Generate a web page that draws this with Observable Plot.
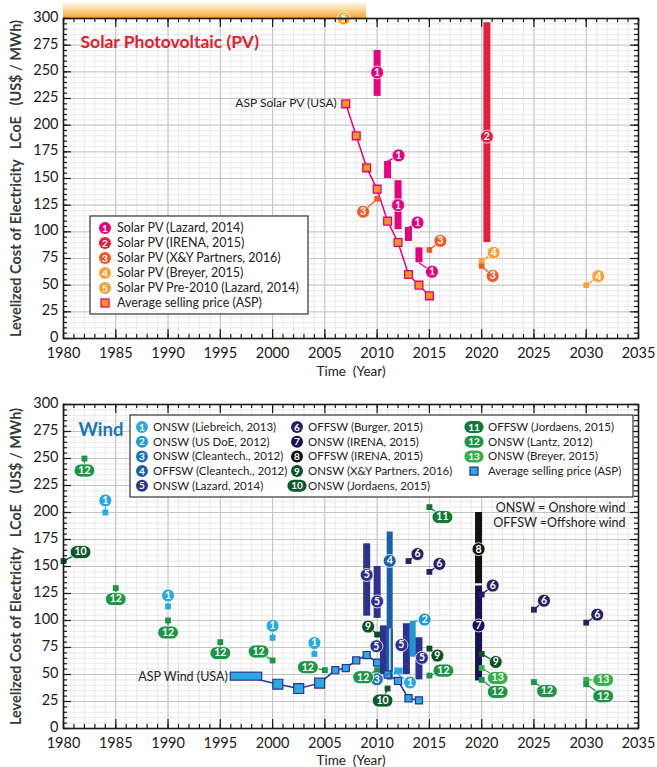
<!DOCTYPE html>
<html><head><meta charset="utf-8">
<script src="https://cdn.jsdelivr.net/npm/d3@7"></script>
<script src="https://cdn.jsdelivr.net/npm/@observablehq/plot@0.6"></script>
<style>
html,body{margin:0;padding:0;background:#fff;}
#root{width:657px;height:767px;overflow:hidden;}
#root svg{display:block;}
</style></head><body><div id="root"></div>
<script>
// ================= DATA: Solar PV =================
const pvSeriesNames = ["Solar PV (Lazard, 2014)", "Solar PV (IRENA, 2015)", "Solar PV (X&Y Partners, 2016)", "Solar PV (Breyer, 2015)", "Solar PV Pre-2010 (Lazard, 2014)"];
const pvRangeSeries = [1, 1, 1, 1, 1, 2];
const pvRangeYears  = [2010, 2011, 2012, 2013, 2014, 2020.5];
const pvRangeLow    = [227, 150, 102, 91, 71, 90];
const pvRangeHigh   = [270, 166, 148, 104, 85, 296];
const pvPointSeries = [3, 3, 3, 4, 4];
const pvPointYears  = [2010, 2015, 2020, 2020, 2030];
const pvPointValues = [131, 83, 68, 73, 50];
const pvAspYears    = [2007, 2008, 2009, 2010, 2011, 2012, 2013, 2014, 2015];
const pvAspValues   = [220, 190, 160, 140, 110, 90, 60, 50, 40];
const pvPre2010Years = [1980, 2009];
const pvPre2010Floor = 300;

// ================= DATA: Wind =================
const windSeriesNames = ["ONSW (Liebreich, 2013)", "ONSW (US DoE, 2012)", "ONSW (Cleantech., 2012)", "OFFSW (Cleantech., 2012)", "ONSW (Lazard, 2014)", "OFFSW (Burger, 2015)", "ONSW (IRENA, 2015)", "OFFSW (IRENA, 2015)", "ONSW (X&Y Partners, 2016)", "ONSW (Jordaens, 2015)", "OFFSW (Jordaens, 2015)", "ONSW (Lantz, 2012)", "ONSW (Breyer, 2015)"];
const windRangeSeries = [5, 5, 5, 4, 3, 1, 5, 2, 5, 8, 7];
const windRangeYears  = [2009, 2010, 2010.6, 2011.2, 2011.4, 2012, 2012.8, 2013.4, 2014, 2019.7, 2019.7];
const windRangeLow    = [104, 102, 50, 45, 52, 50, 50, 66, 45, 134, 44];
const windRangeHigh   = [171, 150, 95, 182, 92, 56, 97, 99, 84, 200, 132];
const windPointSeries = [12, 1, 10, 12, 1, 12, 12, 1, 12, 1, 12, 9, 12, 10, 6, 6, 11, 9, 12, 6, 9, 13, 12, 6, 12, 6, 13, 12];
const windPointYears  = [1982, 1984, 1980, 1985, 1990, 1990, 1995, 2000, 2000, 2004, 2005, 2010, 2010, 2011, 2013, 2015, 2015, 2015, 2015, 2020, 2020, 2020, 2020, 2025, 2025, 2030, 2030, 2030];
const windPointValues = [250, 200, 155, 130, 113, 100, 80, 84, 63, 69, 54, 87, 54, 37, 155, 145, 205, 74, 49, 124, 69, 56, 45, 110, 43, 98, 45, 41];
const windAspSpanStart = [1996];
const windAspSpanEnd   = [1999];
const windAspSpanValue = [48];
const windAspYears  = [2000.5, 2002.5, 2004.5, 2006, 2007, 2008, 2009, 2010, 2011, 2012, 2013, 2014];
const windAspValues = [41, 37, 42, 54, 56, 63, 68, 61, 50, 44, 28, 26];

// ================= TICKS =================
const yearTicks = [1980, 1985, 1990, 1995, 2000, 2005, 2010, 2015, 2020, 2025, 2030, 2035];
const costTicks = [0, 25, 50, 75, 100, 125, 150, 175, 200, 225, 250, 275, 300];

// ================= STYLE / LAYOUT =================
const pvColors = {1: "#e5007d", 2: "#e41e3c", 3: "#f15a24", 4: "#f8a23a", 5: "#f5a033"};
const windColors = {1: "#27aae1", 2: "#1b9ad6", 3: "#1c75bc", 4: "#1860a8", 5: "#2e3192", 6: "#252163", 7: "#151357", 8: "#111111", 9: "#0b4f24", 10: "#0c5a2b", 11: "#127a36", 12: "#1d9447", 13: "#37b04c"};
// label placement: [anchor on bar, dx px, dy px]
const pvRangeLabelAt = [["mid", 0, -1], ["top", 11, -6], ["mid", 0, 0], ["top", 9, -5], ["bottom", 13, 9], ["mid", 0, 4]];
const pvPointLabelAt = [[-14, 13], [11, -9], [11, 10], [12, -8], [12, -9]];
const pvPreLabelAt = [-23, 0];
const windRangeLabelAt = [["mid", 0, -5], ["mid", 0, 9], ["mid", -7, -4], ["mid", 0, -45], ["bottom", -15, 7], ["bottom", 12, 8], ["mid", -5, -4], ["top", 12, -2], ["mid", 3, -1], ["mid", 0, 1], ["mid", 0, -8]];
const windRangeWidth = [7, 7, 7, 6, 3, 9, 7, 6, 7, 7, 7];
const windPointLabelAt = [[0, 12], [0, -12], [17, -9], [0, 11], [0, -11], [0, 12], [0, 11], [0, -12], [-14, -9], [0, -11], [-17, -3], [-9, -8], [-14, 7], [-5, 12], [9, -7], [10, -8], [13, 10], [8, 7], [14, -5], [11, -9], [14, 8], [16, 10], [16, 12], [10, -9], [13, 9], [11, -8], [17, 0], [17, 12]];

const W = 657, ML = 63, MR = 19;
const FONT = "Lato, 'Open Sans', sans-serif";

const pill = {
  draw(ctx, size) {
    const r = Math.sqrt(size / Math.PI), w = r * 0.6;
    ctx.moveTo(-w, -r); ctx.lineTo(w, -r);
    ctx.arc(w, 0, r, -Math.PI / 2, Math.PI / 2);
    ctx.lineTo(-w, r);
    ctx.arc(-w, 0, r, Math.PI / 2, Math.PI * 1.5);
    ctx.closePath();
  }
};

function mkLabel(xs, ys, s, ax, ay, dx, dy) {
  return {s, ax, ay, lx: xs.invert(xs(ax) + dx), ly: ys.invert(ys(ay) + dy)};
}

function labelMarks(items, colors) {
  const single = items.filter(d => d.s < 10), dbl = items.filter(d => d.s >= 10);
  return [
    Plot.link(items, {x1: "ax", y1: "ay", x2: "lx", y2: "ly", stroke: d => colors[d.s], strokeWidth: 1.3}),
    Plot.dot(single, {x: "lx", y: "ly", r: 6.5, fill: d => colors[d.s], stroke: "white", strokeWidth: 0.8}),
    Plot.dot(dbl, {x: "lx", y: "ly", r: 6.5, symbol: pill, fill: d => colors[d.s], stroke: "white", strokeWidth: 0.8}),
    Plot.text(items, {x: "lx", y: "ly", text: d => String(d.s), fill: "white", fontWeight: "bold", fontSize: 10.5})
  ];
}

function gridMarks() {
  return [
    Plot.ruleX(d3.range(1980, 2036, 1), {stroke: "#e4e4e4", strokeWidth: 0.8}),
    Plot.ruleY(d3.range(0, 301, 5), {stroke: "#e4e4e4", strokeWidth: 0.8}),
    Plot.ruleX(yearTicks, {stroke: "#c4c4c4", strokeWidth: 1}),
    Plot.ruleY(costTicks, {stroke: "#c4c4c4", strokeWidth: 1})
  ];
}

function frameMarks(ppy, ppu, dyTitle) {
  const minorYears = d3.range(1980, 2036, 1), minorVals = d3.range(0, 301, 5);
  const s = {stroke: "#1a1a1a", strokeWidth: 1.2};
  return [
    Plot.ruleX(minorYears, {y1: 0, y2: 4 / ppu, ...s}),
    Plot.ruleX(yearTicks, {y1: 0, y2: 9 / ppu, ...s}),
    Plot.ruleX(minorYears, {y1: 300, y2: 300 - 4 / ppu, ...s}),
    Plot.ruleX(yearTicks, {y1: 300, y2: 300 - 9 / ppu, ...s}),
    Plot.ruleY(minorVals, {x1: 1980, x2: 1980 + 4 / ppy, ...s}),
    Plot.ruleY(costTicks, {x1: 1980, x2: 1980 + 8 / ppy, ...s}),
    Plot.ruleY(minorVals, {x1: 2035, x2: 2035 - 4 / ppy, ...s}),
    Plot.ruleY(costTicks, {x1: 2035, x2: 2035 - 8 / ppy, ...s}),
    Plot.frame({stroke: "#1a1a1a", strokeWidth: 1.6}),
    Plot.axisX({ticks: yearTicks, tickSize: 0, tickPadding: 9, fontSize: 14.5, tickFormat: d => String(d), label: null}),
    Plot.axisY({ticks: costTicks, tickSize: 0, tickPadding: 5, dy: -1, fontSize: 14.5, label: null}),
    Plot.text(["Time\u00a0\u00a0(Year)"], {text: d => d, frameAnchor: "bottom", lineAnchor: "middle", dy: dyTitle, fontSize: 13.5, fill: "#222"}),
    Plot.text(["Levelized Cost of Electricity\u00a0\u00a0\u00a0LCoE\u00a0\u00a0\u00a0(US$ / MWh)"], {text: d => d, frameAnchor: "left", textAnchor: "middle", lineAnchor: "middle", rotate: -90, dx: -47, fontSize: 14.5, fontWeight: "bold", fill: "#3a3a3a"})
  ];
}

function drawLegend(svg, box, cols, rowY, step, colors, fs, asp) {
  const g = d3.select(svg).append("g").attr("font-family", FONT).attr("text-anchor", "start");
  g.append("rect").attr("x", box[0]).attr("y", box[1]).attr("width", box[2] - box[0]).attr("height", box[3] - box[1])
    .attr("fill", "white").attr("stroke", "#333").attr("stroke-width", 1.2);
  cols.forEach(col => col.items.forEach((it, r) => {
    const cy = rowY + r * step;
    if (it.asp) {
      g.append("rect").attr("x", col.cx - asp.size / 2).attr("y", cy - asp.size / 2).attr("width", asp.size).attr("height", asp.size)
        .attr("fill", asp.fill).attr("stroke", asp.stroke).attr("stroke-width", 1.3);
    } else {
      if (it.s >= 10) {
        const p = d3.path(); pill.draw(p, Math.PI * 6 * 6);
        g.append("path").attr("d", p.toString()).attr("transform", `translate(${col.cx},${cy})`).attr("fill", colors[it.s]);
      } else {
        g.append("circle").attr("cx", col.cx).attr("cy", cy).attr("r", 6).attr("fill", colors[it.s]);
      }
      g.append("text").attr("x", col.cx).attr("y", cy).attr("dy", "0.35em").attr("text-anchor", "middle")
        .attr("fill", "white").attr("font-weight", "bold").attr("font-size", 10).text(it.s);
    }
    g.append("text").attr("x", col.tx).attr("y", cy).attr("dy", "0.35em").attr("text-anchor", "start")
      .attr("fill", "#222").attr("font-size", fs).text(it.name);
  }));
}

// ================= SOLAR PV CHART =================
function pvChart() {
  const H = 385, MT = 18, MB = 47;
  const xs = d3.scaleLinear([1980, 2035], [ML, W - MR]);
  const ys = d3.scaleLinear([0, 300], [H - MB, MT]);
  const ppy = (W - MR - ML) / 55, ppu = (H - MB - MT) / 300;
  const ranges = pvRangeYears.map((x, i) => ({s: pvRangeSeries[i], x, lo: pvRangeLow[i], hi: pvRangeHigh[i]}));
  const points = pvPointYears.map((x, i) => ({s: pvPointSeries[i], x, v: pvPointValues[i]}));
  const asp = pvAspYears.map((x, i) => ({x, v: pvAspValues[i]}));
  const labels = [
    ...ranges.map((d, i) => {
      const [a, dx, dy] = pvRangeLabelAt[i];
      const ay = a === "mid" ? (d.lo + d.hi) / 2 : a === "top" ? d.hi : d.lo;
      return mkLabel(xs, ys, d.s, d.x, ay, dx, dy);
    }),
    ...points.map((d, i) => mkLabel(xs, ys, d.s, d.x, d.v, ...pvPointLabelAt[i])),
    mkLabel(xs, ys, 5, pvPre2010Years[1], pvPre2010Floor, ...pvPreLabelAt)
  ];
  const band = [{x1: pvPre2010Years[0], x2: pvPre2010Years[1], y1: pvPre2010Floor, y2: pvPre2010Floor + 16 / ppu}];
  const svg = Plot.plot({
    width: W, height: H, marginLeft: ML, marginRight: MR, marginTop: MT, marginBottom: MB,
    x: {domain: [1980, 2035]}, y: {domain: [0, 300]}, color: {type: "identity"},
    style: {fontFamily: FONT, fontSize: "15px", color: "#1a1a1a", background: "white", overflow: "visible"},
    marks: [
      ...gridMarks(),
      Plot.rect(band, {x1: "x1", x2: "x2", y1: "y1", y2: "y2", fill: "url(#pvBandGrad)"}),
      Plot.line(asp, {x: "x", y: "v", stroke: pvColors[1], strokeWidth: 1.5}),
      Plot.ruleX(ranges, {x: "x", y1: "lo", y2: "hi", stroke: d => pvColors[d.s], strokeWidth: d => 7}),
      Plot.dot(points, {x: "x", y: "v", symbol: "square", r: 3.2, fill: d => pvColors[d.s]}),
      Plot.dot(asp, {x: "x", y: "v", symbol: "square", r: 4.4, fill: "#f7941d", stroke: pvColors[1], strokeWidth: 1.3}),
      Plot.text(asp.slice(0, 1), {x: "x", y: "v", text: () => "ASP Solar PV (USA)", textAnchor: "end", dx: -9, dy: -1, fontSize: 12, fill: "#222"}),
      ...labelMarks(labels, pvColors),
      ...frameMarks(ppy, ppu, 33),
      Plot.text(["Solar Photovoltaic (PV)"], {text: d => d, frameAnchor: "top-left", lineAnchor: "middle", dx: 17, dy: 24, textAnchor: "start", fontSize: 17.5, fontWeight: "bold", fill: "#e3202a"})
    ]
  });
  const defs = d3.select(svg).insert("defs", ":first-child");
  const lg = defs.append("linearGradient").attr("id", "pvBandGrad").attr("x1", 0).attr("y1", 0).attr("x2", 0).attr("y2", 1);
  lg.append("stop").attr("offset", "0%").attr("stop-color", "#fffaf0");
  lg.append("stop").attr("offset", "50%").attr("stop-color", "#fcd595");
  lg.append("stop").attr("offset", "100%").attr("stop-color", "#f5a232");
  drawLegend(svg, [90, 216, 308, 314],
    [{cx: 105, tx: 117, items: pvSeriesNames.map((n, i) => ({s: i + 1, name: n})).concat([{asp: true, name: "Average selling price (ASP)"}])}],
    228, 15, pvColors, 12.5, {size: 8, fill: "#f7941d", stroke: pvColors[1]});
  return svg;
}

// ================= WIND CHART =================
function windChart() {
  const H = 382, MT = 19, MB = 39;
  const xs = d3.scaleLinear([1980, 2035], [ML, W - MR]);
  const ys = d3.scaleLinear([0, 300], [H - MB, MT]);
  const ppy = (W - MR - ML) / 55, ppu = (H - MB - MT) / 300;
  const ranges = windRangeYears.map((x, i) => ({s: windRangeSeries[i], x, lo: windRangeLow[i], hi: windRangeHigh[i], w: windRangeWidth[i]}));
  const points = windPointYears.map((x, i) => ({s: windPointSeries[i], x, v: windPointValues[i]}));
  const span = windAspSpanStart.map((x1, i) => ({x1, x2: windAspSpanEnd[i], v: windAspSpanValue[i]}));
  const asp = windAspYears.map((x, i) => ({x, v: windAspValues[i]}));
  const aspLine = span.map(d => ({x: (d.x1 + d.x2) / 2, v: d.v})).concat(asp);
  const labels = [
    ...ranges.map((d, i) => {
      const [a, dx, dy] = windRangeLabelAt[i];
      const ay = a === "mid" ? (d.lo + d.hi) / 2 : a === "top" ? d.hi : d.lo;
      return mkLabel(xs, ys, d.s, d.x, ay, dx, dy);
    }),
    ...points.map((d, i) => mkLabel(xs, ys, d.s, d.x, d.v, ...windPointLabelAt[i]))
  ];
  const thin = ranges.filter(d => d.s === 3);
  const svg = Plot.plot({
    width: W, height: H, marginLeft: ML, marginRight: MR, marginTop: MT, marginBottom: MB,
    x: {domain: [1980, 2035]}, y: {domain: [0, 300]}, color: {type: "identity"},
    style: {fontFamily: FONT, fontSize: "15px", color: "#1a1a1a", background: "white", overflow: "visible"},
    marks: [
      ...gridMarks(),
      Plot.line(aspLine, {x: "x", y: "v", stroke: "#2e3192", strokeWidth: 1.5}),
      Plot.ruleX(ranges.filter(d => d.s !== 3), {x: "x", y1: "lo", y2: "hi", stroke: d => windColors[d.s], strokeWidth: d => d.w}),
      Plot.ruleX(thin, {x: "x", y1: "lo", y2: "hi", stroke: "white", strokeWidth: 5}),
      Plot.ruleX(thin, {x: "x", y1: "lo", y2: "hi", stroke: "#1860a8", strokeWidth: 2.5}),
      Plot.rect(span, {x1: "x1", x2: "x2", y1: d => d.v - 4 / ppu, y2: d => d.v + 4 / ppu, fill: "#29abe2", stroke: "#2e3192", strokeWidth: 1.2}),
      Plot.dot(asp.filter(d => d.x < 2005), {x: "x", y: "v", symbol: "square", r: 5.6, fill: "#29abe2", stroke: "#2e3192", strokeWidth: 1.2}),
      Plot.dot(asp.filter(d => d.x >= 2005), {x: "x", y: "v", symbol: "square", r: 4, fill: "#29abe2", stroke: "#2e3192", strokeWidth: 1.2}),
      Plot.text(span, {x: "x1", y: "v", text: () => "ASP Wind (USA)", textAnchor: "end", dx: -3, fontSize: 12.5, fill: "#222"}),
      Plot.dot(points, {x: "x", y: "v", symbol: "square", r: 3.3, fill: d => windColors[d.s]}),
      ...labelMarks(labels, windColors),
      ...frameMarks(ppy, ppu, 32),
      Plot.text(["Wind"], {text: d => d, frameAnchor: "top-left", lineAnchor: "middle", dx: 15, dy: 26, textAnchor: "start", fontSize: 18.5, fontWeight: "bold", fill: "#1b75bb"}),
      Plot.text(["ONSW = Onshore wind"], {text: d => d, frameAnchor: "top-right", lineAnchor: "middle", dx: -13, dy: 103, textAnchor: "end", fontSize: 12.5, fill: "#222"}),
      Plot.text(["OFFSW =Offshore wind"], {text: d => d, frameAnchor: "top-right", lineAnchor: "middle", dx: -13, dy: 118, textAnchor: "end", fontSize: 12.5, fill: "#222"})
    ]
  });
  const items = windSeriesNames.map((n, i) => ({s: i + 1, name: n}));
  drawLegend(svg, [130, 30, 633, 112],
    [{cx: 142, tx: 153, items: items.slice(0, 5)},
     {cx: 297, tx: 308, items: items.slice(5, 10)},
     {cx: 474, tx: 488, items: items.slice(10).concat([{asp: true, name: "Average selling price (ASP)"}])}],
    42, 14.7, windColors, 11.5, {size: 8, fill: "#29abe2", stroke: "#2e3192"});
  return svg;
}

const root = document.getElementById("root");
root.appendChild(pvChart());
root.appendChild(windChart());
</script>
</body></html>
